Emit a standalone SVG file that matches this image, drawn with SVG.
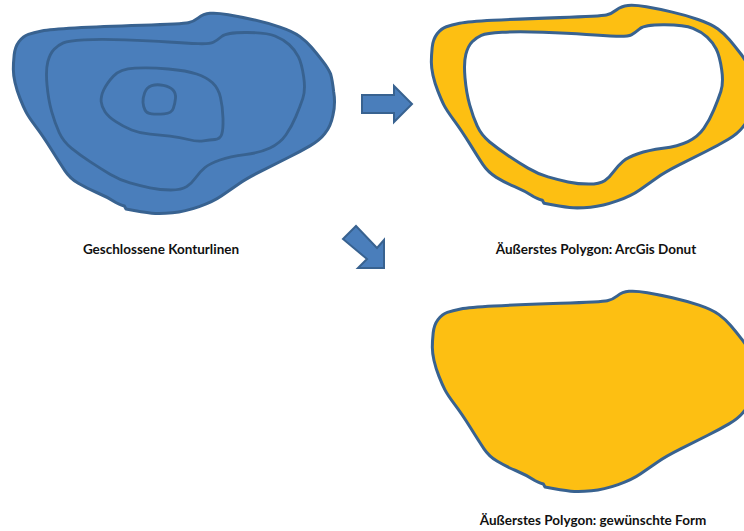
<svg xmlns="http://www.w3.org/2000/svg" width="744" height="531" viewBox="0 0 744 531">
<style>
.c{stroke:#386290;stroke-width:9;stroke-linejoin:round}
.b{fill:#4a7ebb}
.y{fill:#fdbf12;fill-rule:evenodd}
.n{fill:none;stroke:#386290;stroke-width:8.5;stroke-linejoin:round}
.a{fill:#4a7ebb;stroke:#386290;stroke-width:2}
text{font-family:Lato,"Liberation Sans",sans-serif;font-weight:700;font-size:13.5px;fill:#111;text-anchor:middle}
</style>
<defs>
<path id="outer" d="M42.5,165Q45,140 57.5,124Q70,108 85,103Q100,98 125,93Q150,88 225,84Q300,80 425,76Q550,72 565,68.5Q580,65 595,53.5Q610,42 630,40Q650,38 685,44Q720,50 760,59Q800,68 840,81.5Q880,95 900,110Q920,125 935,142.5Q950,160 967.5,182.5Q985,205 992,222.5Q997,240 1001,275Q1007,310 999,345Q992,380 975,400Q960,420 930,437.5Q900,455 865,472.5Q830,490 785,512.5Q740,535 715,552.5Q690,570 665,587.5Q640,605 597.5,620Q555,635 517.5,638.5Q480,642 455,639.5Q430,637 378,627L373,618Q355,612 347.5,607.5Q320,590 290,577.5Q260,565 235,550Q210,535 195,512.5Q180,490 155,450Q130,410 107.5,380Q85,350 77.5,335Q70,320 60,295Q50,270 45,247.5Q40,225 40,207.5Q40,190 42.5,165Z"/>
</defs>
<g id="contours" transform="scale(.33333)">
<use href="#outer" class="c b"/>
<path class="n" d="M143.5,185Q150,160 162.5,147.5Q175,135 190,128.5Q205,122 252.5,119.5Q300,117 375,119.5Q450,122 505,126Q560,130 595,131Q630,132 640,127Q650,122 665,109.5Q680,97 740,97.5Q800,98 825,108Q850,118 867.5,134Q885,150 895,170Q905,190 911,230Q917,270 908.5,295Q900,320 887.5,350Q875,380 857.5,405Q840,430 810,444Q780,458 735,464Q690,470 660,480Q630,490 615,502.5Q600,515 587.5,532.5Q575,550 560,560Q545,570 512.5,570Q480,570 450,563.5Q420,557 390,548.5Q360,540 330,522.5Q300,505 270,485Q240,465 215,445Q190,425 177.5,397.5Q165,370 155,335Q145,300 141,255Q137,210 143.5,185Z"/>
<path class="n" d="M311,270Q320,250 340,228.5Q360,207 405,204.5Q450,202 505,207Q560,212 590,222Q620,232 637.5,248.5Q655,265 661.5,292.5Q668,320 669,355Q670,390 665,403.5Q660,417 645,418.5Q630,420 610,422.5Q590,425 565,418.5Q540,412 510,408.5Q480,405 450,402.5Q420,400 395,390Q370,380 347.5,365Q325,350 315,335Q305,320 303.5,305Q302,290 311,270Z"/>
<path class="n" d="M434,278.5Q440,262 455,257Q470,252 490,256Q510,260 519,270Q528,280 526.5,295Q525,310 520,325Q515,340 492.5,341.5Q470,343 455,341.5Q440,340 435,330Q430,320 429,307.5Q428,295 434,278.5Z"/>
</g>
<g id="donut" transform="translate(418,-8) scale(.33333,.337)">
<path class="c y" d="M42.5,165Q45,140 57.5,124Q70,108 85,103Q100,98 125,93Q150,88 225,84Q300,80 425,76Q550,72 565,68.5Q580,65 595,53.5Q610,42 630,40Q650,38 685,44Q720,50 760,59Q800,68 840,81.5Q880,95 900,110Q920,125 935,142.5Q950,160 967.5,182.5Q985,205 992,222.5Q997,240 1001,275Q1007,310 999,345Q992,380 975,400Q960,420 930,437.5Q900,455 865,472.5Q830,490 785,512.5Q740,535 715,552.5Q690,570 665,587.5Q640,605 597.5,620Q555,635 517.5,638.5Q480,642 455,639.5Q430,637 378,627L373,618Q355,612 347.5,607.5Q320,590 290,577.5Q260,565 235,550Q210,535 195,512.5Q180,490 155,450Q130,410 107.5,380Q85,350 77.5,335Q70,320 60,295Q50,270 45,247.5Q40,225 40,207.5Q40,190 42.5,165ZM143.5,185Q150,160 162.5,147.5Q175,135 190,128.5Q205,122 252.5,119.5Q300,117 375,119.5Q450,122 505,126Q560,130 595,131Q630,132 640,127Q650,122 665,109.5Q680,97 740,97.5Q800,98 825,108Q850,118 867.5,134Q885,150 895,170Q905,190 911,230Q917,270 908.5,295Q900,320 887.5,350Q875,380 857.5,405Q840,430 810,444Q780,458 735,464Q690,470 660,480Q630,490 615,502.5Q600,515 587.5,532.5Q575,550 560,560Q545,570 512.5,570Q480,570 450,563.5Q420,557 390,548.5Q360,540 330,522.5Q300,505 270,485Q240,465 215,445Q190,425 177.5,397.5Q165,370 155,335Q145,300 141,255Q137,210 143.5,185Z"/>
</g>
<g id="filled" transform="translate(419,278) scale(.33333)">
<use href="#outer" class="c" style="fill:#fdbf12"/>
</g>
<g id="arrows">
<path class="a" d="M362,95H394V86L412,104L394,122V113H362Z"/>
<path class="a" d="M343,239L356,226L377,248L384,240V268H358L367,259Z"/>
</g>
<g id="labels">
<text x="161" y="254">Geschlossene Konturlinen</text>
<text x="596" y="254">Äußerstes Polygon: ArcGis Donut</text>
<text x="593" y="525">Äußerstes Polygon: gewünschte Form</text>
</g>
</svg>
